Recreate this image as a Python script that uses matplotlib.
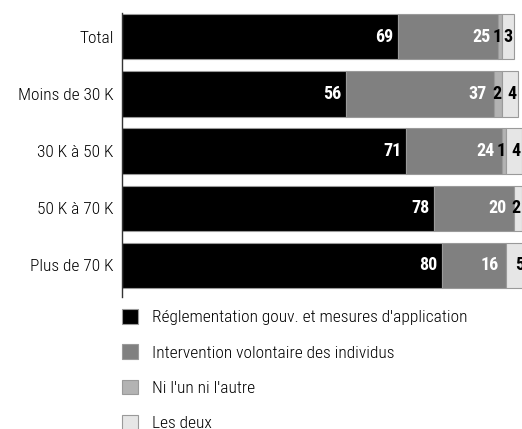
import matplotlib.pyplot as plt
import numpy as np
from matplotlib.patches import Patch

plt.rcParams["font.family"] = ["Roboto Condensed", "DejaVu Sans"]

groups = ["Total", "Moins de 30 K", "30 K à 50 K", "50 K à 70 K", "Plus de 70 K"]
series = ["Réglementation gouv. et mesures d'application",
          "Intervention volontaire des individus",
          "Ni l'un ni l'autre",
          "Les deux"]
reglementation = [69, 56, 71, 78, 80]
volontaire = [25, 37, 24, 20, 16]
ni_lun = [1, 2, 1, 0, 0]
les_deux = [3, 4, 4, 2, 5]

colors = ["#000000", "#808080", "#b3b3b3", "#e6e6e6"]
text_colors = ["white", "white", "black", "black"]
label_pad = [-3.5, -5.5, -0.5, -1.0]

fig = plt.figure(figsize=(5.22, 4.29), dpi=100)
ax = fig.add_axes([122 / 522, 1 - 297 / 429, 400 / 522, 284 / 429])

y = np.arange(len(groups))
left = np.zeros(len(groups))
for name, vals, col, tcol, pad in zip(series, [reglementation, volontaire, ni_lun, les_deux],
                                       colors, text_colors, label_pad):
    vals = np.array(vals, dtype=float)
    ax.barh(y, vals, left=left, height=0.79, color=col, edgecolor="#9a9a9a", linewidth=0.8,
            label=name)
    for i, v in enumerate(vals):
        if v > 0:
            ax.annotate(f"{int(v)}", (left[i] + v, y[i]), xytext=(pad, 0), textcoords="offset points",
                        ha="right", va="center", color=tcol, fontsize=13, fontweight="bold",
                        annotation_clip=False)
    left += vals

ax.set_xlim(0, 100)
ax.set_ylim(4.56, -0.42)
ax.set_yticks(y, groups, fontsize=12.5, fontweight="light")
ax.tick_params(axis="y", length=0, pad=6)
ax.set_xticks([])
for side in ["top", "right", "bottom"]:
    ax.spines[side].set_visible(False)
ax.spines["left"].set_color("#333333")
ax.spines["left"].set_linewidth(1)

handles = [Patch(facecolor=c, edgecolor="#9a9a9a", linewidth=0.8) for c in colors]
leg = fig.legend(handles, series, loc="upper left", bbox_to_anchor=(122 / 522, 1 - 309 / 429),
                 frameon=False, fontsize=12.5, handlelength=0.92, handleheight=0.92,
                 handletextpad=0.8, labelspacing=1.1, borderaxespad=0, borderpad=0)
for t in leg.get_texts():
    t.set_fontweight("light")

fig.savefig("out.png", dpi=100)
